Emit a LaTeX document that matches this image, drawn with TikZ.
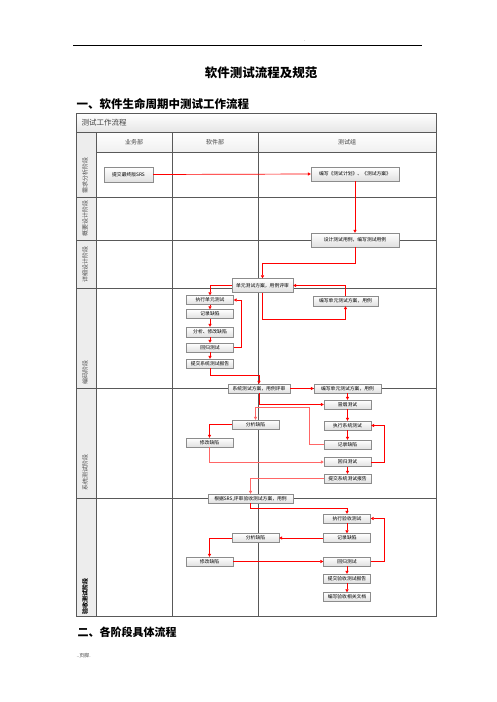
\documentclass[tikz,border=0pt]{standalone}
\usepackage{fontspec}
\setmainfont{Noto Sans CJK SC}
\usetikzlibrary{arrows.meta,shadows}
\begin{document}
\begin{tikzpicture}[x=1pt,y=-1pt,
  grid/.style={draw=black!65,line width=0.7pt},
  stepbox/.style={draw=black!45,line width=0.4pt,top color=white,bottom color=black!12,
    minimum width=47pt,minimum height=9pt,inner sep=0.5pt,font=\fontsize{4.8}{5}\selectfont,
    drop shadow={shadow xshift=0.7pt,shadow yshift=-0.7pt,opacity=0.35,fill=black!50}},
  flow/.style={draw=red,line width=0.7pt,-{Triangle[length=3pt,width=3.2pt]}},
  lflow/.style={draw=red!60,line width=0.9pt,-{Triangle[length=3pt,width=3.2pt]}},
  phase/.style={rotate=90,font=\fontsize{6}{6}\selectfont,text=black!70},
  colhead/.style={font=\fontsize{6}{6}\selectfont,text=black!75}]
\useasboundingbox (0,0) rectangle (496,702);
\fill[white] (0,0) rectangle (496,702);

% page header / titles
\draw[line width=0.8pt] (73,45) -- (422,45);
\node[font=\fontsize{4}{4}\selectfont] (dot) at (305,41) {.};
\node[font=\bfseries\fontsize{12.5}{13}\selectfont] (title) at (261,73) {软件测试流程及规范};
\node[anchor=west,font=\bfseries\fontsize{11.5}{12}\selectfont] (h1) at (73,104) {一、软件生命周期中测试工作流程};
\node[anchor=west,font=\bfseries\fontsize{11}{12}\selectfont] (h2) at (74,632) {二、各阶段具体流程};
\node[anchor=west,font=\fontsize{5}{5}\selectfont,text=black!70] (foot) at (73,656) {..页脚.};

% table backgrounds
\shade[top color=white,bottom color=black!10] (76,113) rectangle (436,132);
\shade[top color=white,bottom color=black!6] (96,132) rectangle (436,152);
\fill[black!7] (76,132) rectangle (96,616);

% table lines
\draw[grid] (76,113) rectangle (436,616);
\draw[grid] (76,132) -- (436,132);
\draw[grid] (96,152) -- (436,152);
\foreach \yy in {197,240,288,388,498} \draw[grid] (76,\yy) -- (436,\yy);
\draw[grid] (96,132) -- (96,616);
\draw[grid,line width=0.9pt] (172,132) -- (172,616);
\draw[grid] (258,132) -- (258,616);

\node[anchor=west,font=\fontsize{7.5}{8}\selectfont,text=black!75] (tt) at (78,122.5) {测试工作流程};
\node[colhead] (c1) at (134,142) {业务部};
\node[colhead] (c2) at (215,142) {软件部};
\node[colhead] (c3) at (347,142) {测试组};

\node[phase] (p1) at (85,175) {需求分析阶段};
\node[phase] (p2) at (85,218) {概要设计阶段};
\node[phase] (p3) at (85,264) {详细设计阶段};
\node[phase] (p4) at (85,372) {编码阶段};
\node[phase] (p5) at (85,472) {系统测试阶段};
\node[phase,font=\bfseries\fontsize{6}{6}\selectfont,text=black] (p6) at (85,596) {验收测试阶段};

% boxes: requirement / design
\node[stepbox,minimum width=49pt,minimum height=15pt] (srs) at (128.5,174.5) {提交最终版SRS};
\node[stepbox,minimum width=88pt,minimum height=14pt] (plan) at (355,174) {编写《测试计划》、《测试方案》};
\node[stepbox,minimum width=88pt,minimum height=14pt] (design) at (355,240) {设计测试用例，编写测试用例};
\node[stepbox,minimum width=61pt,minimum height=14pt] (ureview) at (262.5,285.5) {单元测试方案，用例评审};
\node[stepbox,minimum width=65pt,minimum height=10pt] (uwrite) at (345.5,301) {编写单元测试方案，用例};
% coding
\node[stepbox] (uexec) at (210,300) {执行单元测试};
\node[stepbox] (urec) at (210,314) {记录缺陷};
\node[stepbox,minimum height=10pt] (ufix) at (210,332) {分析、修改缺陷};
\node[stepbox] (ureg) at (210,347.5) {回归测试};
\node[stepbox] (urep) at (210,363.5) {提交系统测试报告};
% system test
\node[stepbox,minimum width=62pt] (sreview) at (259,388.5) {系统测试方案，用例评审};
\node[stepbox,minimum width=67pt] (swrite) at (347.5,388.5) {编写单元测试方案，用例};
\node[stepbox] (smoke) at (347.5,404.5) {冒烟测试};
\node[stepbox] (sexec) at (347.5,425.5) {执行系统测试};
\node[stepbox] (srec) at (347.5,444.5) {记录缺陷};
\node[stepbox] (sreg) at (347.5,462) {回归测试};
\node[stepbox] (srep) at (347.5,478.5) {提交系统测试报告};
\node[stepbox] (sana) at (255.5,424.5) {分析缺陷};
\node[stepbox] (sfix) at (209.5,442.5) {修改缺陷};
% acceptance
\node[stepbox,minimum width=85pt] (areview) at (250.5,498.5) {根据SRS,评审验收测试方案，用例};
\node[stepbox] (aexec) at (347,518.5) {执行验收测试};
\node[stepbox] (arec) at (347,538) {记录缺陷};
\node[stepbox] (aana) at (255.5,538) {分析缺陷};
\node[stepbox] (afix) at (209.5,561.5) {修改缺陷};
\node[stepbox] (areg) at (347,561.5) {回归测试};
\node[stepbox] (arep) at (347,578.5) {提交验收测试报告};
\node[stepbox] (adoc) at (347,597) {编写验收相关文档};

% bend coordinates
\coordinate (b1) at (355,263);
\coordinate (b2) at (345.5,319);
\coordinate (b3) at (241,347.5);
\coordinate (b4) at (210,375);
\coordinate (b5) at (309,407);
\coordinate (b6) at (384,462);
\coordinate (b7) at (250.5,508);
\coordinate (b8) at (384,561.5);

% connectors
\draw[flow] (srs.east) -- (plan.west);
\draw[flow] (plan.south) -- (design.north);
\draw[flow] (design.south) -- (b1) -| (ureview.north);
\draw[flow] (ureview.south) |- (b2) -- (uwrite.south);
\draw[flow] (uwrite.north) |- (ureview.east);
\draw[flow] (ureview.west) -| (uexec.north);
\draw[flow] (uexec) -- (urec);
\draw[flow] (urec) -- (ufix);
\draw[flow] (ufix) -- (ureg);
\draw[flow] (ureg) -- (urep);
\draw[flow] (ureg.east) -- (b3) |- (uexec.east);
\draw[flow] (urep.south) -- (b4) -| (sreview.north);
\draw[flow] (sreview.east) -- (swrite.west);
\draw[flow] (swrite) -- (smoke);
\draw[flow] (sreview.south) |- (smoke.west);
\draw[flow] (smoke) -- (sexec);
\draw[flow] (sexec) -- (srec);
\draw[lflow] (srec.west) -| (b5) -| (sana.north);
\draw[flow] (sana.west) -| (sfix.north);
\draw[lflow] (sfix.south) |- (sreg.west);
\draw[flow] (sreg.east) -- (b6) |- (sexec.east);
\draw[flow] (sreg) -- (srep);
\draw[lflow] (srep.west) -| (areview.north);
\draw[flow] (areview.south) -- (b7) -| (aexec.north);
\draw[flow] (aexec) -- (arec);
\draw[flow] (arec) -- (aana);
\draw[flow] (aana.west) -| (afix.north);
\draw[flow] (afix) -- (areg);
\draw[flow] (areg.east) -- (b8) |- (aexec.east);
\draw[flow] (areg) -- (arep);
\draw[flow] (arep) -- (adoc);
\end{tikzpicture}
\end{document}
